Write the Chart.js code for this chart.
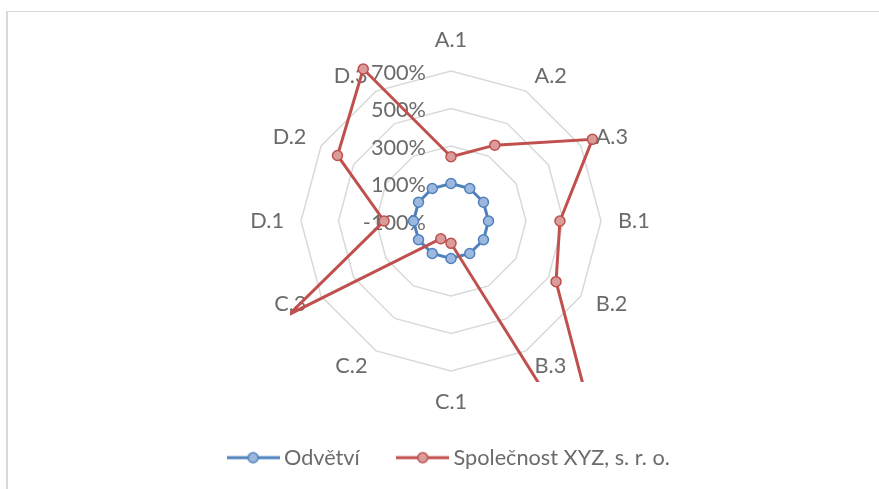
<!DOCTYPE html>
<html>
<head>
<meta charset="utf-8">
<script src="https://cdn.jsdelivr.net/npm/chart.js@4.4.1/dist/chart.umd.min.js"></script>
<style>
  html, body { margin: 0; padding: 0; background: #ffffff; overflow: hidden; }
  #frame {
    position: absolute; left: 6px; top: 11px; width: 900px; height: 500px;
    border-left: 2px solid #d9d9d9; border-top: 1px solid #d9d9d9;
  }
  #chart { position: absolute; left: 0; top: 0; }
</style>
</head>
<body>
<div id="frame"></div>
<canvas id="chart" width="879" height="489"></canvas>
<script>
// Categories around the radar, clockwise from the top
const CATEGORIES = ['A.1', 'A.2', 'A.3', 'B.1', 'B.2', 'B.3', 'C.1', 'C.2', 'C.3', 'D.1', 'D.2', 'D.3'];

// Series values in percent
const INDUSTRY = [100, 100, 100, 100, 100, 100, 100, 100, 100, 100, 100, 100];
const COMPANY  = [243, 367, 771, 481, 547, 1640, 19, 9, 895, 257, 599, 836];

const SERIES_NAMES = ['Odvětví', 'Společnost XYZ, s. r. o.'];

// Radial axis range and step (percent)
const AXIS_MIN = -100;
const AXIS_MAX = 700;
const AXIS_STEP = 200;

const TEXT_COLOR = '#6b6b6b';
const FONT = { family: 'Lato', size: 21.7 };
const BLUE = { line: '#4F81BD', fill: '#9DB8DE' };
const RED  = { line: '#C0504D', fill: '#DA9C9B' };

const LABEL_ROOM = 32;    // space kept around the rings for category labels
const LABEL_GAP = 17;     // distance of category labels beyond the outer ring
const PLOT_MARGIN = 11;   // plot square extends this far past the outer ring

function plotHalf(scale) { return scale.drawingArea + PLOT_MARGIN; }

// Markers are only drawn where they fall inside the square plot area
function markerRadius(ctx) {
  const r = ctx.chart.scales.r;
  if (!r) return 5;
  const p = r.getPointPositionForValue(ctx.dataIndex, ctx.raw);
  const h = plotHalf(r);
  return (Math.abs(p.x - r.xCenter) <= h && Math.abs(p.y - r.yCenter) <= h) ? 5 : 0;
}

// Legend swatch: short line with a marker in the middle
function legendSwatch(col) {
  const c = document.createElement('canvas');
  c.width = 53; c.height = 14;
  const g = c.getContext('2d');
  g.strokeStyle = col.line;
  g.lineWidth = 3;
  g.beginPath(); g.moveTo(0, 7); g.lineTo(53, 7); g.stroke();
  g.beginPath(); g.arc(26.5, 7, 5, 0, Math.PI * 2);
  g.fillStyle = col.fill; g.fill();
  g.lineWidth = 1.5; g.stroke();
  return c;
}
const SWATCHES = [legendSwatch(BLUE), legendSwatch(RED)];

// Axis and category labels in the plot, plus clipping of the series to the plot square
const radarText = {
  id: 'radarText',
  beforeDatasetsDraw(chart) {
    const r = chart.scales.r;
    const ctx = chart.ctx;
    ctx.save();
    ctx.font = `${FONT.size}px ${FONT.family}`;
    ctx.fillStyle = TEXT_COLOR;
    ctx.textBaseline = 'middle';

    ctx.textAlign = 'right';
    r.ticks.forEach(t => {
      const d = r.getDistanceFromCenterForValue(t.value);
      ctx.fillText(t.label, r.xCenter - 25, r.yCenter - d + 2);
    });

    const n = CATEGORIES.length;
    CATEGORIES.forEach((label, i) => {
      const p = r.getPointPosition(i, r.drawingArea + LABEL_GAP);
      const deg = Math.round(i * 360 / n);
      let align = 'center', dy = 0;
      if (deg === 0) dy = -14;
      else if (deg === 180) dy = 14;
      else align = deg < 180 ? 'left' : 'right';
      ctx.textAlign = align;
      ctx.fillText(label, p.x, p.y + dy);
    });
    ctx.restore();

    const h = plotHalf(r);
    ctx.save();
    ctx.beginPath();
    ctx.rect(r.xCenter - h, r.yCenter - h, 2 * h, 2 * h);
    ctx.clip();
  },
  afterDatasetsDraw(chart) {
    chart.ctx.restore();
  }
};

Chart.defaults.font.family = FONT.family;
Chart.defaults.color = TEXT_COLOR;

new Chart(document.getElementById('chart'), {
  type: 'radar',
  data: {
    labels: CATEGORIES,
    datasets: [
      {
        label: SERIES_NAMES[0],
        data: INDUSTRY,
        order: 1,
        borderColor: BLUE.line,
        borderWidth: 3,
        backgroundColor: 'transparent',
        fill: false,
        pointBackgroundColor: BLUE.fill,
        pointBorderColor: BLUE.line,
        pointBorderWidth: 1.5,
        pointRadius: markerRadius,
        pointHoverRadius: markerRadius
      },
      {
        label: SERIES_NAMES[1],
        data: COMPANY,
        order: 0,
        borderColor: RED.line,
        borderWidth: 3,
        backgroundColor: 'transparent',
        fill: false,
        pointBackgroundColor: RED.fill,
        pointBorderColor: RED.line,
        pointBorderWidth: 1.5,
        pointRadius: markerRadius,
        pointHoverRadius: markerRadius
      }
    ]
  },
  options: {
    responsive: false,
    animation: false,
    devicePixelRatio: 1,
    layout: { padding: { left: 24, right: 0, top: 39.5, bottom: 10.5 } },
    elements: { line: { tension: 0 } },
    scales: {
      r: {
        min: AXIS_MIN,
        max: AXIS_MAX,
        ticks: {
          stepSize: AXIS_STEP,
          display: false,
          callback: v => v + '%'
        },
        grid: { color: '#D9D9D9', lineWidth: 1.5 },
        angleLines: { display: false },
        pointLabels: { display: false },
        afterFit(scale) {
          scale.drawingArea = Math.floor(Math.min(scale.width, scale.height) / 2) - LABEL_ROOM;
        }
      }
    },
    plugins: {
      tooltip: { enabled: false },
      legend: {
        position: 'bottom',
        labels: {
          font: FONT,
          color: TEXT_COLOR,
          usePointStyle: true,
          pointStyleWidth: 40,
          padding: 43,
          generateLabels(chart) {
            const items = Chart.defaults.plugins.legend.labels.generateLabels(chart);
            items.sort((a, b) => a.datasetIndex - b.datasetIndex);
            items.forEach(it => { it.pointStyle = SWATCHES[it.datasetIndex]; });
            return items;
          }
        }
      }
    }
  },
  plugins: [radarText]
});
</script>
</body>
</html>
